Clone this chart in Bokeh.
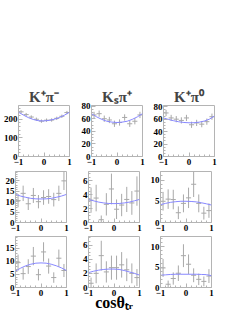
from bokeh.plotting import figure
from bokeh.layouts import column, row
from bokeh.models import FixedTicker, Range1d
from bokeh.embed import file_html
from bokeh.resources import INLINE

# ---------------- data ----------------
bin_centers = [-0.9, -0.7, -0.5, -0.3, -0.1, 0.1, 0.3, 0.5, 0.7, 0.9]
bin_half = 0.1
fit_x = [-1.0, -0.8, -0.6, -0.4, -0.2, 0.0, 0.2, 0.4, 0.6, 0.8, 1.0]

titles = ["K⁺π⁻", "Kₛπ⁺", "K⁺π⁰"]
x_label = "cosθₜᵣ"
x_ticks = [-1, 0, 1]
x_minor = [-0.8, -0.6, -0.4, -0.2, 0.2, 0.4, 0.6, 0.8]

# row 1
r1c1_y = [240, 225, 212, 200, 190, 195, 196, 205, 216, 236]
r1c1_e = [9, 9, 9, 9, 9, 9, 9, 9, 9, 9]
r1c1_fit = [238, 222, 208, 198, 192, 191, 194, 200, 209, 222, 238]
r1c2_y = [66, 68, 60, 58, 52, 54, 62, 52, 56, 66]
r1c2_e = [5, 5, 5, 5, 5, 5, 5, 5, 5, 5]
r1c2_fit = [68, 63, 59, 56, 54.6, 54, 54.6, 56, 59, 63, 68]
r1c3_y = [70, 62, 60, 58, 62, 51, 54, 52, 56, 64]
r1c3_e = [5, 5, 5, 5, 5, 5, 5, 5, 5, 5]
r1c3_fit = [62, 59.5, 57.5, 55.8, 54.7, 54.2, 54.3, 55.2, 57, 60, 65]
# row 2
r2c1_y = [10.5, 14, 9, 13, 10, 12, 12.5, 11, 14, 20]
r2c1_e = [3.2, 3.7, 3.0, 3.6, 3.2, 3.5, 3.5, 3.3, 3.7, 4.4]
r2c1_fit = [13.5, 12.7, 12.1, 11.6, 11.35, 11.3, 11.35, 11.6, 12.1, 12.7, 13.5]
r2c2_y = [3.2, 3.5, 0.4, 2.6, 4.8, 1.9, 2.5, 3.3, 2.8, 4.5]
r2c2_e = [1.8, 1.9, 0.6, 1.6, 2.2, 1.4, 1.6, 1.8, 1.7, 2.1]
r2c2_fit = [3.3, 3.1, 2.92, 2.8, 2.72, 2.7, 2.72, 2.8, 2.92, 3.1, 3.3]
r2c3_y = [5.0, 5.5, 5.4, 2.3, 4.5, 5.8, 9.0, 4.5, 2.2, 2.8]
r2c3_e = [2.2, 2.3, 2.3, 1.5, 2.1, 2.4, 3.0, 2.1, 1.5, 1.7]
r2c3_fit = [4.2, 4.5, 4.75, 4.9, 5.0, 5.0, 4.95, 4.85, 4.65, 4.4, 4.1]
# row 3
r3c1_y = [9.5, 5.3, 8.0, 12.0, 4.9, 13.6, 8.2, 3.8, 11.2, 6.5]
r3c1_e = [3.1, 2.3, 2.8, 3.5, 2.2, 3.7, 2.9, 2.0, 3.3, 2.5]
r3c1_fit = [6.3, 7.4, 8.3, 8.9, 9.3, 9.4, 9.3, 8.9, 8.3, 7.5, 6.5]
r3c2_y = [0.6, 2.0, 4.5, 2.2, 2.8, 2.8, 3.2, 2.5, 2.0, 1.4]
r3c2_e = [0.8, 1.4, 2.1, 1.5, 1.7, 1.7, 1.8, 1.6, 1.4, 1.2]
r3c2_fit = [2.1, 2.3, 2.45, 2.55, 2.6, 2.6, 2.55, 2.4, 2.2, 2.0, 1.75]
r3c3_y = [4.8, 0.8, 2.2, 3.5, 7.8, 5.7, 3.0, 2.0, 1.5, 2.8]
r3c3_e = [2.2, 0.9, 1.5, 1.9, 2.8, 2.4, 1.7, 1.4, 1.2, 1.7]
r3c3_fit = [3.0, 3.1, 3.2, 3.25, 3.25, 3.25, 3.25, 3.25, 3.2, 3.15, 2.9]

y_tops = [[274, 81, 82], [24.5, 7.3, 12], [19.5, 7.2, 12.5]]
y_ticks = [[[0, 100, 200], [0, 20, 40, 60, 80], [0, 20, 40, 60, 80]],
           [[0, 5, 10, 15, 20], [0, 2, 4, 6], [0, 5, 10]],
           [[0, 5, 10, 15], [0, 2, 4, 6], [0, 5, 10]]]
y_minor_step = [[20, 5, 5], [1, 0.5, 1], [1, 0.5, 1]]

panels = [[(r1c1_y, r1c1_e, r1c1_fit), (r1c2_y, r1c2_e, r1c2_fit), (r1c3_y, r1c3_e, r1c3_fit)],
          [(r2c1_y, r2c1_e, r2c1_fit), (r2c2_y, r2c2_e, r2c2_fit), (r2c3_y, r2c3_e, r2c3_fit)],
          [(r3c1_y, r3c1_e, r3c1_fit), (r3c2_y, r3c2_e, r3c2_fit), (r3c3_y, r3c3_e, r3c3_fit)]]

# ---------------- style ----------------
FONT = "Liberation Serif"
GREY = "#b4b4b4"
PT = "#a8a8a8"
FIT = "#8888ff"
left_b = [15, 14, 14]
right_b = [8, 7, 7]
top_b = [105, 0, 0]
bottom_b = [15, 14, 20]


def make_panel(r, c):
    ys, es, fit = panels[r][c]
    p = figure(frame_width=51, frame_height=51,
               min_border_left=left_b[c], min_border_right=right_b[c],
               min_border_top=top_b[r], min_border_bottom=bottom_b[r],
               x_range=Range1d(-1, 1), y_range=Range1d(0, y_tops[r][c]),
               output_backend="svg", toolbar_location=None,
               title=titles[c] if r == 0 else None)
    if r == 0:
        p.title.align = "center"
        p.title.text_font = FONT
        p.title.text_font_style = "bold"
        p.title.text_font_size = "15px"
        p.title.standoff = 2
    p.xgrid.visible = False
    p.ygrid.visible = False
    p.outline_line_color = GREY
    p.background_fill_color = "white"
    p.border_fill_color = "white"

    ticks = y_ticks[r][c]
    step = y_minor_step[r][c]
    n = int(round(y_tops[r][c] / step))
    yminor = [i * step for i in range(n + 1)]
    p.xaxis.ticker = FixedTicker(ticks=x_ticks, minor_ticks=x_minor)
    p.yaxis.ticker = FixedTicker(ticks=ticks, minor_ticks=yminor)
    for ax in (p.xaxis, p.yaxis):
        ax.axis_line_color = GREY
        ax.major_tick_line_color = GREY
        ax.minor_tick_line_color = GREY
        ax.major_tick_in = 4
        ax.major_tick_out = 0
        ax.minor_tick_in = 2
        ax.minor_tick_out = 0
        ax.major_label_text_font = FONT
        ax.major_label_text_font_style = "bold"
        ax.major_label_text_font_size = "9px"
        ax.major_label_text_color = "black"
    p.xaxis.major_label_standoff = 2
    p.yaxis.major_label_standoff = 1

    if r == 2 and c == 1:
        p.xaxis.axis_label = x_label
        p.xaxis.axis_label_text_font = FONT
        p.xaxis.axis_label_text_font_style = "bold"
        p.xaxis.axis_label_text_font_size = "16px"
        p.xaxis.axis_label_text_color = "black"
        p.xaxis.axis_label_standoff = -5

    lo = [y - e for y, e in zip(ys, es)]
    hi = [y + e for y, e in zip(ys, es)]
    x0 = [x - bin_half for x in bin_centers]
    x1 = [x + bin_half for x in bin_centers]
    p.segment(x0=bin_centers, y0=lo, x1=bin_centers, y1=hi, line_color=PT, line_width=1)
    p.segment(x0=x0, y0=ys, x1=x1, y1=ys, line_color=PT, line_width=1)
    p.line(fit_x, fit, line_color=FIT, line_width=1)
    return p


rows = []
for r in range(3):
    rows.append(row([make_panel(r, c) for c in range(3)]))
layout = column(rows)

open("out.html", "w").write(file_html(layout, INLINE))
